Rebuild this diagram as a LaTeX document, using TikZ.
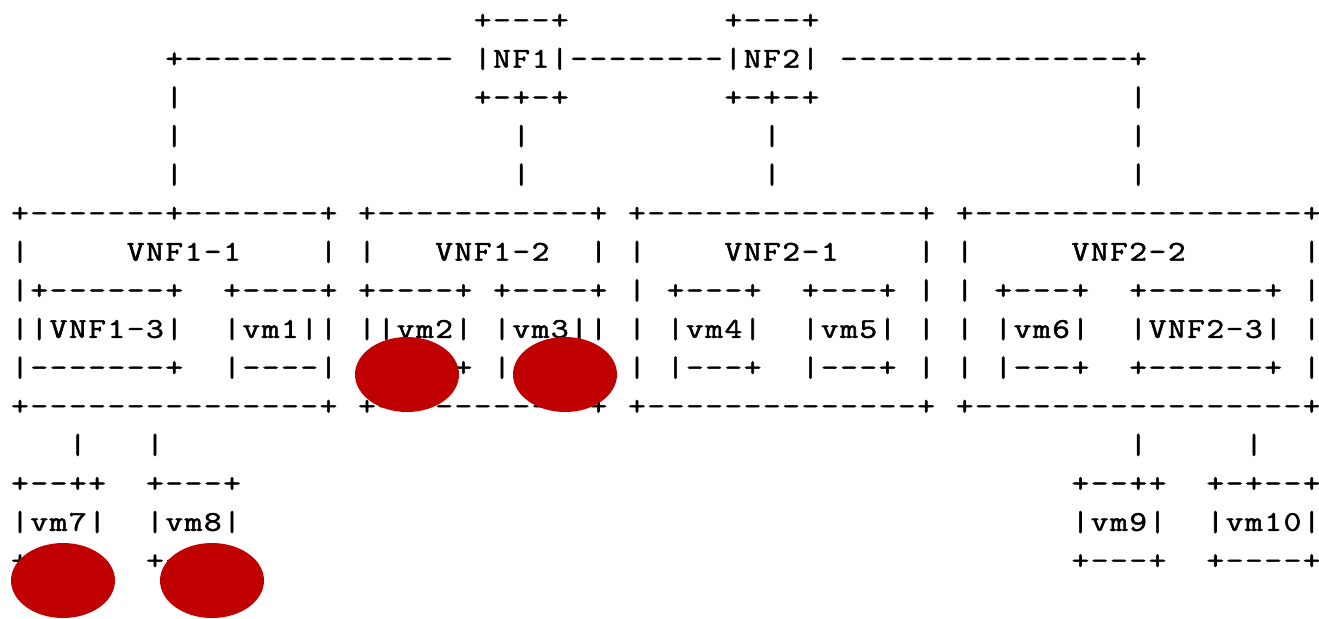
\documentclass[tikz,border=0pt]{standalone}
\usepackage{fontspec}
\usepackage{graphicx}
\newfontfamily\ascfont{Latin Modern Mono}[FakeBold=1.6]
\definecolor{markred}{RGB}{192,0,0}
\newlength{\cw}
\setlength{\cw}{9.64pt}
\def\sx{1.2}
\makeatletter
\def\asc#1{\asc@loop#1\relax}
\def\asc@loop#1{\ifx#1\relax\else\asc@cell{#1}\expandafter\asc@loop\fi}
\def\asc@cell#1{\ifx.#1\hbox to\cw{\hss}\else\hbox to\cw{\hss\scalebox{\sx}[1]{#1}\hss}\fi}
\makeatother
\newcommand\cx[1]{10.36+19.28*#1}
\newcommand\ry[1]{29+38.6*#1}
\tikzset{
  asc/.style={anchor=base west, inner sep=0pt, outer sep=0pt,
    font=\ascfont\fontsize{14.3pt}{14.3pt}\selectfont, text=black},
  redblob/.style={fill=markred}
}
\begin{document}
\begin{tikzpicture}[x=0.5pt,y=-0.5pt]
\fill[white] (0,0) rectangle (1319,618);
\useasboundingbox (0,0) rectangle (1319,618);
% row 0
\node[asc] (nfonetop) at ({\cx{24}},{\ry{0}}) {\asc{+---+}};
\node[asc] (nftwotop) at ({\cx{37}},{\ry{0}}) {\asc{+---+}};
% row 1
\node[asc] (nfline) at ({\cx{8}},{\ry{1}}) {\asc{+--------------.|NF1|--------|NF2|.---------------+}};
% row 2
\node[asc] (ra) at ({\cx{8}},{\ry{2}}) {\asc{|}};
\node[asc] (nfonebot) at ({\cx{24}},{\ry{2}}) {\asc{+-+-+}};
\node[asc] (nftwobot) at ({\cx{37}},{\ry{2}}) {\asc{+-+-+}};
\node[asc] (rb) at ({\cx{58}},{\ry{2}}) {\asc{|}};
% rows 3,4
\foreach \r in {3,4}{
  \node[asc] (va\r) at ({\cx{8}},{\ry{\r}}) {\asc{|}};
  \node[asc] (vb\r) at ({\cx{26}},{\ry{\r}}) {\asc{|}};
  \node[asc] (vc\r) at ({\cx{39}},{\ry{\r}}) {\asc{|}};
  \node[asc] (vd\r) at ({\cx{58}},{\ry{\r}}) {\asc{|}};
}
% rows 5-10
\node[asc] (rowfive) at ({\cx{0}},{\ry{5}}) {\asc{+-------+-------+.+-----------+.+--------------+.+-----------------+}};
\node[asc] (rowsix) at ({\cx{0}},{\ry{6}}) {\asc{|.....VNF1-1....|.|...VNF1-2..|.|....VNF2-1....|.|.....VNF2-2......|}};
\node[asc] (rowseven) at ({\cx{0}},{\ry{7}}) {\asc{|+------+..+----+.+----+.+----+.|.+---+..+---+.|.|.+---+..+------+.|}};
\node[asc] (roweight) at ({\cx{0}},{\ry{8}}) {\asc{||VNF1-3|..|vm1||.||vm2|.|vm3||.|.|vm4|..|vm5|.|.|.|vm6|..|VNF2-3|.|}};
\node[asc] (rownine) at ({\cx{0}},{\ry{9}}) {\asc{|-------+..|----|.||---+.|---+|.|.|---+..|---+.|.|.|---+..+------+.|}};
\node[asc] (rowten) at ({\cx{0}},{\ry{10}}) {\asc{+---------------+.+-----------+.+--------------+.+-----------------+}};
% rows 11-14
\node[asc] (lvl) at ({\cx{3}},{\ry{11}}) {\asc{|...|}};
\node[asc] (rvl) at ({\cx{58}},{\ry{11}}) {\asc{|.....|}};
\node[asc] (ltop) at ({\cx{0}},{\ry{12}}) {\asc{+--++..+---+}};
\node[asc] (rtop) at ({\cx{55}},{\ry{12}}) {\asc{+--++..+-+--+}};
\node[asc] (lmid) at ({\cx{0}},{\ry{13}}) {\asc{|vm7|..|vm8|}};
\node[asc] (rmid) at ({\cx{55}},{\ry{13}}) {\asc{|vm9|..|vm10|}};
\node[asc] (lbot) at ({\cx{0}},{\ry{14}}) {\asc{+---+..+---+}};
\node[asc] (rbot) at ({\cx{55}},{\ry{14}}) {\asc{+---+..+----+}};
% red marks
\fill[redblob] (407,374.5) ellipse [x radius=52, y radius=37.5];
\fill[redblob] (565,374.5) ellipse [x radius=52, y radius=37.5];
\fill[redblob] (63,580.5) ellipse [x radius=52, y radius=37.5];
\fill[redblob] (212,580.5) ellipse [x radius=52, y radius=37.5];
\end{tikzpicture}
\end{document}
